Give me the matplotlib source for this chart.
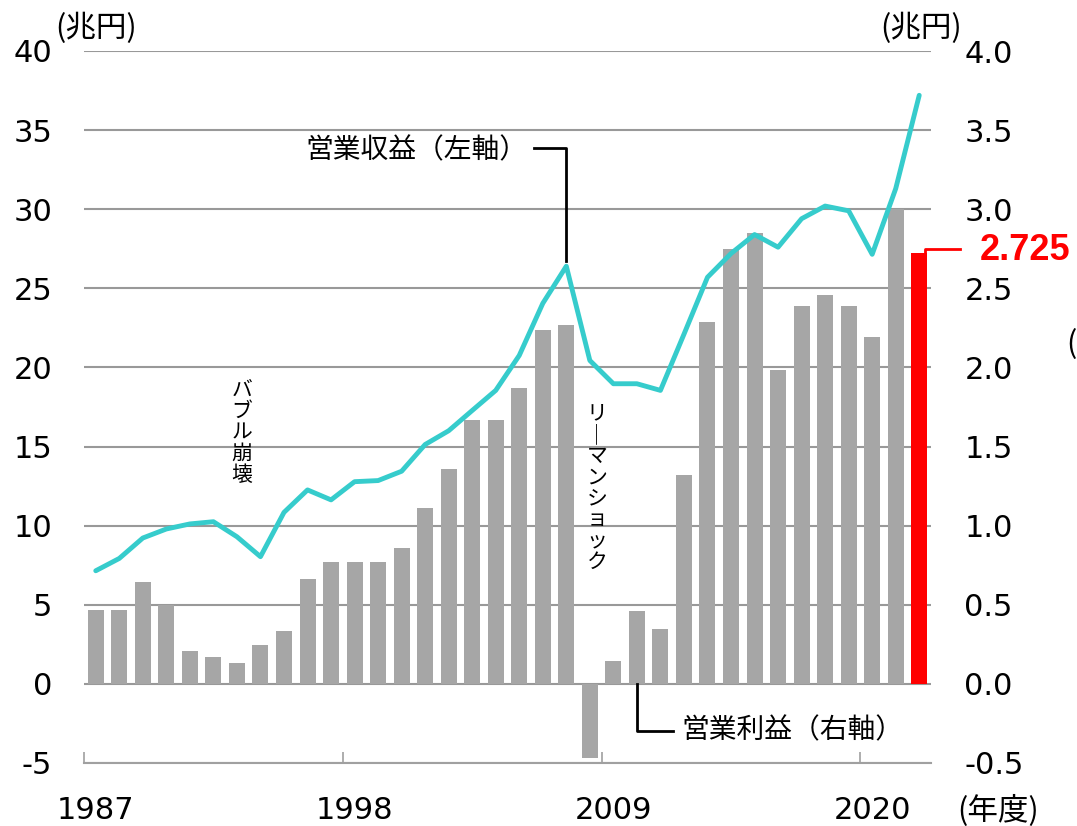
import matplotlib.pyplot as plt
import numpy as np

plt.rcParams['font.family'] = ['DejaVu Sans', 'Noto Sans CJK JP']
plt.rcParams['axes.unicode_minus'] = False

years = list(range(1987, 2023))
# 営業収益 (兆円, 左軸)
revenue = [7.15, 7.93, 9.22, 9.79, 10.11, 10.25, 9.30, 8.04, 10.84, 12.26,
           11.63, 12.78, 12.85, 13.44, 15.13, 16.00, 17.28, 18.55, 20.76, 24.05,
           26.40, 20.44, 18.97, 18.97, 18.55, 22.10, 25.70, 27.20, 28.40, 27.60,
           29.40, 30.20, 29.90, 27.15, 31.30, 37.20]
# 営業利益 (兆円, 右軸)
profit = [0.464, 0.464, 0.641, 0.498, 0.207, 0.169, 0.131, 0.247, 0.335, 0.66,
          0.77, 0.77, 0.77, 0.86, 1.114, 1.356, 1.665, 1.665, 1.869, 2.238,
          2.266, -0.468, 0.146, 0.462, 0.348, 1.32, 2.29, 2.75, 2.85, 1.987,
          2.39, 2.457, 2.39, 2.19, 3.0, 2.725]
label_years = [1987, 1998, 2009, 2020]

W, H = 1077, 826
fig = plt.figure(figsize=(W / 100, H / 100), dpi=100)
ax = fig.add_axes([84 / W, 1 - 763 / H, (931 - 84) / W, (763 - 51) / H])
ax2 = ax.twinx()
ax.set_zorder(ax2.get_zorder() + 1)
ax.patch.set_visible(False)

x = np.arange(len(years))
colors = ['#A6A6A6'] * (len(years) - 1) + ['#FF0000']
ax2.bar(x, profit, width=0.68, color=colors, zorder=3)
ax2.set_ylim(-0.5, 4.0)
ax2.set_yticks(np.arange(-0.5, 4.01, 0.5))
ax2.set_yticklabels(['%.1f' % v for v in np.arange(-0.5, 4.01, 0.5)])
ax2.yaxis.grid(True, color='#999999', lw=1.5, zorder=0)
ax2.set_axisbelow(True)

ax.plot(x, revenue, color='#36CCCC', lw=3.5, solid_capstyle='round', solid_joinstyle='round')
ax.set_ylim(-5, 40)
ax.set_yticks(range(-5, 41, 5))
ax.set_xlim(-0.5, len(years) - 0.5)

ax.set_xticks([years.index(y) for y in label_years])
ax.set_xticklabels([str(y) for y in label_years])
ax.set_xticks([years.index(y) - 0.5 for y in label_years], minor=True)
ax.tick_params(axis='x', which='major', length=0, labelsize=22, pad=24)
ax.tick_params(axis='x', which='minor', direction='in', length=8, width=1.2, color='#A0A0A0')
ax.tick_params(axis='y', length=0, labelsize=22, pad=23)
ax2.tick_params(axis='y', length=0, labelsize=22, pad=24)

for a in (ax, ax2):
    for s in ['top', 'left', 'right']:
        a.spines[s].set_visible(False)
ax2.spines['bottom'].set_visible(False)
ax.spines['bottom'].set_color('#A0A0A0')
ax.spines['bottom'].set_linewidth(1.5)

jp = ['Noto Sans CJK JP']
# 注記
ax.text(18.33, 33.7, '営業収益（左軸）', family=jp, fontsize=20, ha='right', va='center')
ax.plot([18.62, 19.98, 19.98], [33.86, 33.86, 26.7], color='black', lw=2)
ax.text(24.9, -2.91, '営業利益（右軸）', family=jp, fontsize=20, ha='left', va='center')
ax.plot([23.0, 23.0, 24.53], [0, -2.97, -2.97], color='black', lw=2)

ax.text(6.2, 15.9, '\n'.join('バブル崩壊'), family=jp, fontsize=15,
        ha='center', va='center', linespacing=0.95)
ax.text(21.3, 12.4, '\n'.join(['リ', '｜', 'マ', 'ン', 'シ', 'ョ', 'ッ', 'ク']), family=jp,
        fontsize=15, ha='center', va='center', linespacing=0.95)

ax2.plot([35.24, 35.24, 36.73], [2.70, 2.747, 2.747], color='#FF0000', lw=2, clip_on=False, zorder=4)
ax2.text(37.58, 2.74, '2.725', color='#FF0000', fontsize=26, fontweight='bold',
         family=['Liberation Sans'], ha='left', va='center', clip_on=False)

fig.text(55 / W, 1 - 28 / H, '(兆円)', family=jp, fontsize=22, ha='left', va='center')
fig.text(880 / W, 1 - 28 / H, '(兆円)', family=jp, fontsize=22, ha='left', va='center')
fig.text(957 / W, 1 - 811 / H, '(年度)', family=jp, fontsize=22, ha='left', va='center')
fig.text(1066 / W, 1 - 345 / H, '(', family=jp, fontsize=22, ha='left', va='center')

fig.savefig('out.png', dpi=100)
